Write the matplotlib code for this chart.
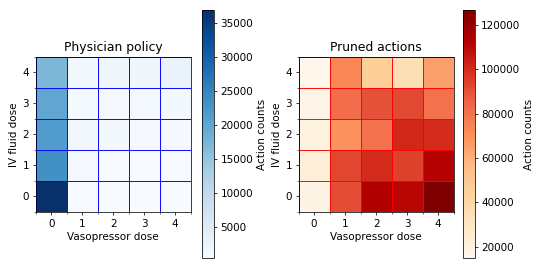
import numpy as np
import matplotlib
matplotlib.use('Agg')
import matplotlib.pyplot as plt

plt.rcParams['font.size'] = 11

doses = [0, 1, 2, 3, 4]

# rows = IV fluid dose 0..4, cols = vasopressor dose 0..4
physician_counts = np.array([
    [36900, 600, 500, 500, 500],
    [23300, 700, 600, 600, 600],
    [21500, 1500, 1000, 800, 800],
    [19800, 900, 800, 900, 1000],
    [17000, 1200, 1700, 1700, 2800],
])

pruned_counts = np.array([
    [17000, 91000, 113000, 111000, 126700],
    [22000, 93000, 100000, 94000, 112000],
    [19000, 69000, 80000, 101000, 100000],
    [16500, 82000, 90000, 92000, 80000],
    [15000, 73000, 45000, 35000, 65000],
])

fig = plt.figure(figsize=(8, 4), dpi=67.5)

panels = [
    (physician_counts, 'Blues', 'b', 'Physician policy',
     [0.065, 0.215, 0.289, 0.574], [0.374, 0.044, 0.022, 0.919], (400, 36900)),
    (pruned_counts, 'OrRd', 'r', 'Pruned actions',
     [0.552, 0.215, 0.289, 0.574], [0.857, 0.044, 0.022, 0.919], (14800, 126750)),
]

for data, cmap, gcol, title, pos, cpos, (vmin, vmax) in panels:
    ax = fig.add_axes(pos)
    im = ax.imshow(data, cmap=cmap, origin='lower', vmin=vmin, vmax=vmax)
    ax.set_xticks(range(len(doses)))
    ax.set_yticks(range(len(doses)))
    ax.set_xticklabels(doses)
    ax.set_yticklabels(doses)
    ax.set_xticks(np.arange(-0.5, 5, 1), minor=True)
    ax.set_yticks(np.arange(-0.5, 5, 1), minor=True)
    ax.grid(which='minor', color=gcol, linewidth=1)
    ax.set_xlabel('Vasopressor dose')
    ax.set_ylabel('IV fluid dose')
    ax.set_title(title)
    cax = fig.add_axes(cpos)
    cb = fig.colorbar(im, cax=cax)
    cb.set_label('Action counts')

plt.savefig('out.png', dpi=67.5)
